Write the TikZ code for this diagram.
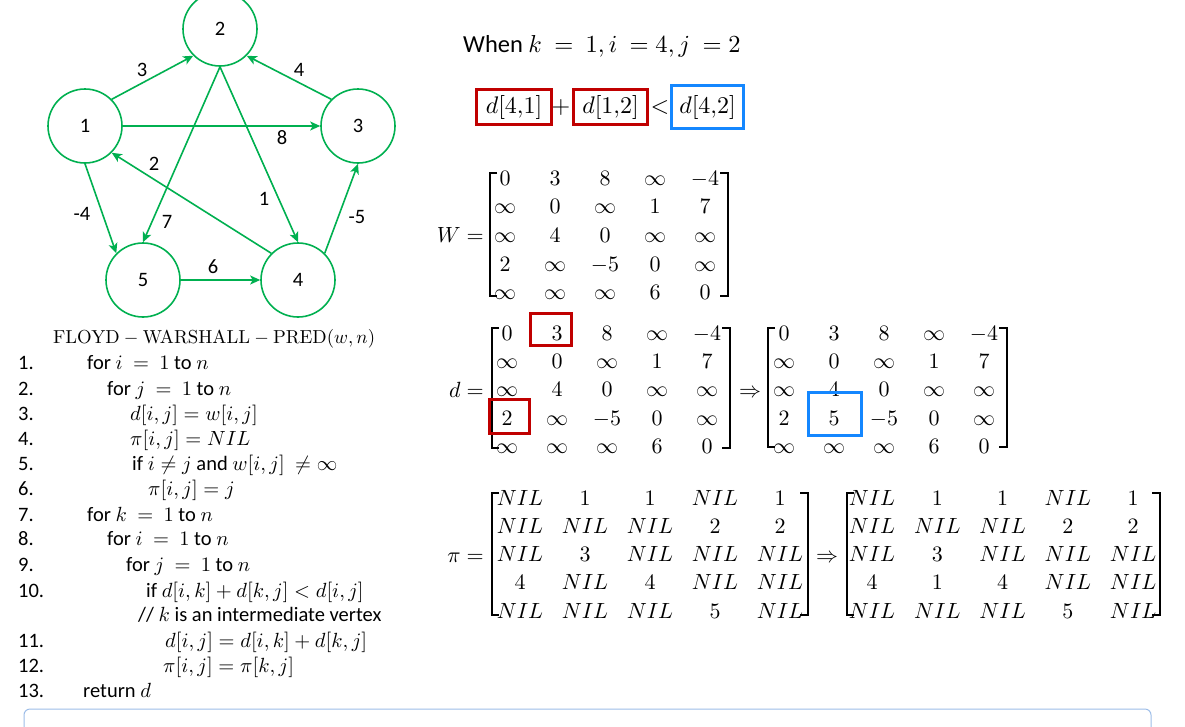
\RequirePackage{fix-cm}
\documentclass[tikz,border=0pt]{standalone}
\usepackage{amsmath}
\usepackage[no-math]{fontspec}
\setmainfont{Carlito}
\DeclareFontShape{OT1}{cmr}{m}{n}{<-> cmr10}{}
\DeclareFontShape{OML}{cmm}{m}{it}{<-> cmmi10}{}
\usetikzlibrary{arrows.meta}
\definecolor{grn}{HTML}{00B050}
\definecolor{dred}{HTML}{C00000}
\definecolor{bblue}{RGB}{20,135,255}
\definecolor{lblue}{HTML}{9DBDE8}
\newcommand\drawmat[6]{%
  \foreach \rowlist [count=\ri] in {#6} {%
    \foreach \e [count=\ci] in \rowlist {%
      \node[mentry] (#1-\ri-\ci) at ({#2+(\ci-1)*#3},{#4+(\ri-1)*#5}) {$\e$};
    }%
  }%
}
\newcommand\mbrk[4]{%
  \draw[brkline] ({#1+7},#3) -- (#1,#3) -- (#1,#4) -- ({#1+7},#4);
  \draw[brkline] ({#2-8},#3) -- (#2,#3) -- (#2,#4) -- ({#2-8},#4);
}
\tikzset{
  vert/.style={circle, draw=grn, line width=1.6pt, minimum size=74pt, inner sep=0pt, font=\fontsize{20.5}{24}\selectfont},
  gedge/.style={draw=grn, line width=1.6pt, -{Stealth[length=10pt,width=9pt,inset=2.5pt]}},
  elabel/.style={inner sep=0pt, font=\fontsize{20.5}{24}\selectfont},
  mentry/.style={inner sep=0pt, anchor=base, font=\fontsize{22}{26}\selectfont},
  brkline/.style={line width=1.8pt, black},
  code/.style={inner sep=0pt, anchor=base west, font=\fontsize{20.5}{24}\selectfont},
  ftext/.style={inner sep=0pt, anchor=base, font=\fontsize{24}{28}\selectfont},
  fbox/.style={line width=3pt, inner sep=0pt, font=\fontsize{24}{28}\selectfont},
  hbox/.style={line width=3pt, inner sep=0pt},
}
\begin{document}
\begin{tikzpicture}[x=1pt,y=-1pt]
\fill[white] (0,0) rectangle (1185,726);
\useasboundingbox (0,0) rectangle (1185,726);

% ---- graph ----
\node[vert] (n1) at (85,126) {1};
\node[vert] (n2) at (220,29) {2};
\node[vert] (n3) at (358,126) {3};
\node[vert] (n4) at (298,280) {4};
\node[vert] (n5) at (143,280) {5};
\draw[gedge] (n1.45) -- (n2.225);
\draw[gedge] (n3.135) -- (n2.315);
\draw[gedge] (n1.0) -- (n3.180);
\draw[gedge] (n2.270) -- (n5.90);
\draw[gedge] (n2.270) -- (n4.90);
\draw[gedge] (n4.135) -- (n1.315);
\draw[gedge] (n1.270) -- (n5.135);
\draw[gedge] (n5.0) -- (n4.180);
\draw[gedge] (n4.45) -- (n3.270);
\node[elabel] (l12) at (142,70) {3};
\node[elabel] (l32) at (299,70) {4};
\node[elabel] (l13) at (282,138) {8};
\node[elabel] (l41) at (154,164) {2};
\node[elabel] (l24) at (264,199) {1};
\node[elabel] (l25) at (167,222) {7};
\node[elabel] (l15) at (82,214) {-4};
\node[elabel] (l43) at (357,217) {-5};
\node[elabel] (l54) at (213,267) {6};

% ---- condition ----
\node[code, anchor=base west, font=\fontsize{24.5}{28}\selectfont] (when) at (463,52) {When $k\ =\ 1, i\ = 4, j\ = 2$};
\node[fbox, draw=dred, minimum width=75pt, minimum height=35pt] (f1) at (514,107) {$d[4{,}1]$};
\node[ftext] (fplus) at (561,113) {$+$};
\node[fbox, draw=dred, minimum width=74pt, minimum height=35pt] (f2) at (610.5,107) {$d[1{,}2]$};
\node[ftext] (flt) at (660,113) {$<$};
\node[fbox, draw=bblue, minimum width=72pt, minimum height=43pt] (f3) at (707.5,107) {$d[4{,}2]$};

% ---- W ----
\node[mentry, anchor=base east] (Wlab) at (484,242) {$W =$};
\drawmat{W}{505}{50}{185}{28.7}{{0,3,8,\infty,-4},{\infty,0,\infty,1,7},{\infty,4,0,\infty,\infty},{2,\infty,-5,0,\infty},{\infty,\infty,\infty,6,0}}
\mbrk{490}{728}{173}{296}

% ---- d ----
\node[mentry, anchor=base east] (dlab) at (484,397) {$d =$};
\drawmat{dL}{507}{50}{340}{28.4}{{0,3,8,\infty,-4},{\infty,0,\infty,1,7},{\infty,4,0,\infty,\infty},{2,\infty,-5,0,\infty},{\infty,\infty,\infty,6,0}}
\mbrk{492}{730}{328}{448}
\node[mentry] (darr) at (750,397) {$\Rightarrow$};
\drawmat{dR}{784}{50}{340}{28.4}{{0,3,8,\infty,-4},{\infty,0,\infty,1,7},{\infty,4,0,\infty,\infty},{2,5,-5,0,\infty},{\infty,\infty,\infty,6,0}}
\mbrk{768}{1007}{328}{447}
\node[hbox, draw=dred, minimum width=41pt, minimum height=32pt] (hl1) at (551,329.5) {};
\node[hbox, draw=dred, minimum width=40pt, minimum height=34pt] (hl2) at (509.5,416.5) {};
\node[hbox, draw=bblue, minimum width=53pt, minimum height=43pt] (hl3) at (835,414) {};

% ---- pi ----
\node[mentry, anchor=base east] (plab) at (484,562) {$\pi =$};
\drawmat{pL}{520}{65}{505}{28.3}{{NIL,1,1,NIL,1},{NIL,NIL,NIL,2,2},{NIL,3,NIL,NIL,NIL},{4,NIL,4,NIL,NIL},{NIL,NIL,NIL,5,NIL}}
\mbrk{492}{808}{493}{615}
\node[mentry] (parr) at (827,562) {$\Rightarrow$};
\drawmat{pR}{872}{65.3}{505}{28.3}{{NIL,1,1,NIL,1},{NIL,NIL,NIL,2,2},{NIL,3,NIL,NIL,NIL},{4,1,4,NIL,NIL},{NIL,NIL,NIL,5,NIL}}
\mbrk{847}{1160}{493}{615}

% ---- pseudocode ----
\node[code, font=\fontsize{18.8}{24}\selectfont] (title) at (53,343) {$\mathrm{FLOYD} - \mathrm{WARSHALL} - \mathrm{PRED}(w,n)$};
\foreach \n/\y in {1/369,2/395,3/420,4/445,5/470,6/495,7/521,8/545,9/571,10/597,11/647,12/672,13/697}
  \node[code] (num\n) at (18,\y) {\n.};
\node[code] (c1) at (87,369) {for $i\ =\ 1$ to $n$};
\node[code] (c2) at (107,395) {for $j\ =\ 1$ to $n$};
\node[code] (c3) at (130,420) {$d[i,j] = w[i,j]$};
\node[code] (c4) at (130,445) {$\pi[i,j] = NIL$};
\node[code] (c5) at (132,470) {if $i \neq j$ and $w[i,j]\ \neq \infty$};
\node[code] (c6) at (148,495) {$\pi[i,j] = j$};
\node[code] (c7) at (87,521) {for $k\ =\ 1$ to $n$};
\node[code] (c8) at (107,545) {for $i\ =\ 1$ to $n$};
\node[code] (c9) at (126,571) {for $j\ =\ 1$ to $n$};
\node[code] (c10) at (146,597) {if $d[i,k] + d[k,j] < d[i,j]$};
\node[code] (ccom) at (138,621) {// $k$ is an intermediate vertex};
\node[code] (c11) at (165,647) {$d[i,j] = d[i,k] + d[k,j]$};
\node[code] (c12) at (163,672) {$\pi[i,j] = \pi[k,j]$};
\node[code] (c13) at (83,697) {return $d$};

% ---- bottom panel ----
\draw[lblue, line width=1pt, rounded corners=6pt] (24,740) -- (24,709) -- (1151,709) -- (1151,740);
\end{tikzpicture}
\end{document}
